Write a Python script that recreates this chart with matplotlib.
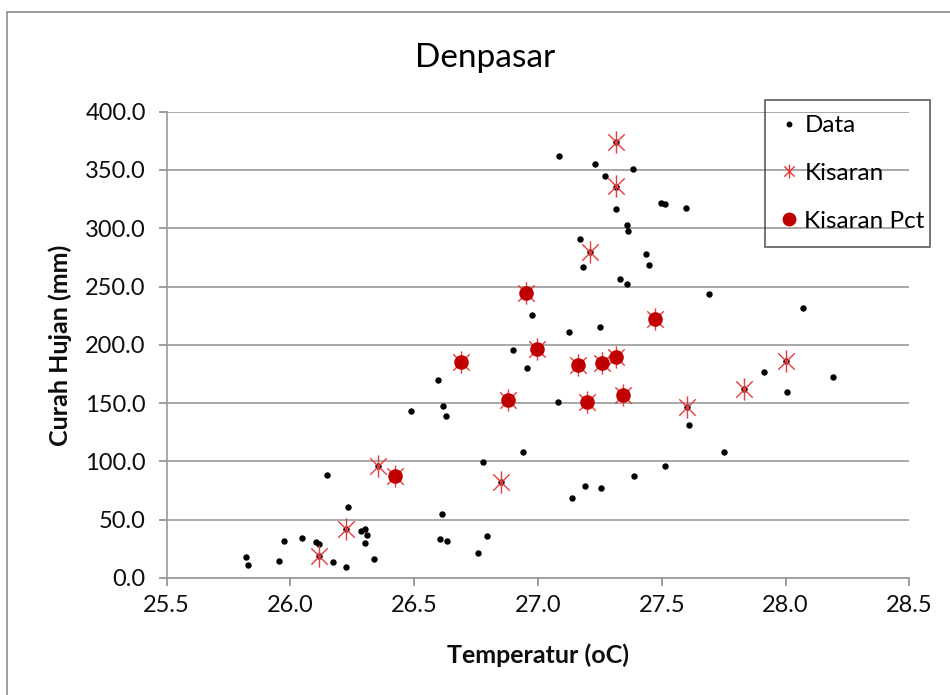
import matplotlib
matplotlib.use("Agg")
import matplotlib.pyplot as plt
from matplotlib.path import Path
from matplotlib.lines import Line2D
from matplotlib.patches import Rectangle

plt.rcParams['font.family'] = ['Lato', 'DejaVu Sans']

# ---- data ----
data_temp = [25.819, 25.830, 25.974, 26.046, 25.954, 26.103, 26.115, 26.172, 26.224, 26.233,
             26.146, 26.285, 26.301, 26.308, 26.302, 26.337, 26.488, 26.596, 26.617, 26.628,
             26.612, 26.603, 26.632, 26.757, 26.794, 26.777, 26.939, 26.897, 26.954, 27.079,
             27.136, 27.188, 27.254, 27.389, 27.514, 27.612, 27.752, 27.912, 28.005, 28.192,
             27.083, 27.230, 27.385, 27.270, 27.317, 27.496, 27.514, 27.596, 27.358, 27.363,
             27.170, 27.181, 27.435, 27.447, 27.332, 27.358, 27.689, 28.071, 26.974, 27.125,
             27.249,
             26.115, 26.224, 26.353, 26.850, 27.603, 27.832, 28.001, 27.317, 27.317, 27.212,
             26.689, 26.877, 26.421, 26.997, 27.161, 27.259, 27.316, 27.197, 27.343, 27.471, 26.950]
data_rain = [18.3, 11.4, 31.5, 34.6, 14.8, 30.6, 29.2, 13.7, 9.2, 61.2,
             88.6, 40.3, 42.3, 36.9, 30.3, 16.0, 143.5, 169.8, 147.8, 139.0,
             54.6, 33.5, 31.5, 21.7, 35.7, 99.5, 108.3, 195.3, 179.8, 151.3,
             68.9, 78.6, 77.5, 87.5, 96.1, 131.2, 108.4, 176.4, 159.8, 172.1,
             362.3, 354.8, 351.1, 344.8, 316.2, 322.0, 320.5, 317.4, 302.8, 297.4,
             290.8, 266.8, 277.7, 268.8, 256.7, 252.5, 243.6, 231.3, 225.9, 210.8,
             215.0,
             18.9, 42.0, 96.1, 82.6, 147.0, 162.1, 186.4, 374.3, 335.1, 279.4,
             185.0, 152.4, 87.5, 196.4, 183.0, 184.4, 189.6, 151.3, 156.7, 221.9, 244.5]

kisaran_temp = [26.115, 26.224, 26.353, 26.850, 27.603, 27.832, 28.001, 27.317, 27.317, 27.212,
                26.689, 26.877, 26.421, 26.997, 27.161, 27.259, 27.316, 27.197, 27.343, 27.471, 26.950]
kisaran_rain = [18.9, 42.0, 96.1, 82.6, 147.0, 162.1, 186.4, 374.3, 336.5, 279.4,
                185.0, 152.4, 87.5, 196.4, 183.0, 184.4, 189.6, 151.3, 156.7, 221.9, 244.5]

pct_temp = [26.689, 26.877, 26.421, 26.997, 27.161, 27.259, 27.316, 27.197, 27.343, 27.471, 26.950]
pct_rain = [185.0, 152.4, 87.5, 196.4, 183.0, 184.4, 189.6, 151.3, 156.7, 221.9, 244.5]

x_ticks = [25.5, 26.0, 26.5, 27.0, 27.5, 28.0, 28.5]
y_ticks = [0, 50, 100, 150, 200, 250, 300, 350, 400]

# ---- figure ----
W, H = 950, 695
fig = plt.figure(figsize=(W / 100, H / 100), dpi=100)
ax = fig.add_axes([166.7 / W, 1 - 578 / H, (909.3 - 166.7) / W, (578 - 111.7) / H])

# outer chart border
fig.patches.append(Rectangle((6.7 / W, -0.1), 1.2, 1 - 12 / H + 0.1, transform=fig.transFigure,
                             fill=False, edgecolor='#8c8c8c', linewidth=1.2))

star = Path([(-1, -1), (1, 1), (-1, 1), (1, -1), (0, -1.35), (0, 1.35)],
            [Path.MOVETO, Path.LINETO, Path.MOVETO, Path.LINETO, Path.MOVETO, Path.LINETO])

ax.plot(data_temp, data_rain, linestyle='none', marker='o', markersize=3.6,
        color='black', zorder=3)
ax.plot(kisaran_temp, kisaran_rain, linestyle='none', marker=star, markersize=16,
        markerfacecolor='none', markeredgecolor='#e8393c', markeredgewidth=1.0, zorder=4)
ax.plot(pct_temp, pct_rain, linestyle='none', marker='o', markersize=10.5,
        color='#c00000', markeredgewidth=0, zorder=5)

ax.set_xlim(25.5, 28.5)
ax.set_ylim(0, 400)
ax.set_xticks(x_ticks)
ax.set_xticklabels([f"{v:.1f}" for v in x_ticks])
ax.set_yticks(y_ticks)
ax.set_yticklabels([f"{v:.1f}" for v in y_ticks])
ax.tick_params(axis='both', labelsize=17, colors='#8c8c8c', labelcolor='#0d0d0d',
               length=6, width=1.2)
ax.tick_params(axis='x', pad=6)
ax.tick_params(axis='y', pad=9)

ax.grid(axis='y', color='#9a9a9a', linewidth=1.2)
ax.set_axisbelow(True)
for s in ['top', 'right']:
    ax.spines[s].set_visible(False)
for s in ['left', 'bottom']:
    ax.spines[s].set_color('#9a9a9a')
    ax.spines[s].set_linewidth(1.2)

fig.text(485 / W, 1 - 58 / H, "Denpasar", fontsize=24, ha='center', va='center', color='black')
fig.text(538 / W, 1 - 655 / H, "Temperatur (oC)", fontsize=18, fontweight='bold',
         ha='center', va='center', color='#0d0d0d')
fig.text(60 / W, 1 - 345 / H, "Curah Hujan (mm)", fontsize=18, fontweight='bold',
         ha='center', va='center', rotation=90, color='#0d0d0d')

handles = [
    Line2D([], [], linestyle='none', marker='o', markersize=3.2, color='black'),
    Line2D([], [], linestyle='none', marker=star, markersize=10, markerfacecolor='none',
           markeredgecolor='#e8393c', markeredgewidth=1.0),
    Line2D([], [], linestyle='none', marker='o', markersize=10, color='#c00000',
           markeredgewidth=0),
]
leg = fig.legend(handles, ["Data", "Kisaran", "Kisaran Pct"], loc='upper left',
                 bbox_to_anchor=(765 / W, 1 - 245 / H, (930 - 765) / W, (245 - 100) / H),
                 mode='expand', fontsize=17.5, frameon=True, fancybox=False,
                 handlelength=0.7, handletextpad=0.3, labelspacing=1.1,
                 borderpad=0.62, borderaxespad=0)
leg.get_frame().set_facecolor('none')
leg.get_frame().set_edgecolor('#333333')
leg.get_frame().set_linewidth(1.2)

fig.savefig("out.png", dpi=100)
